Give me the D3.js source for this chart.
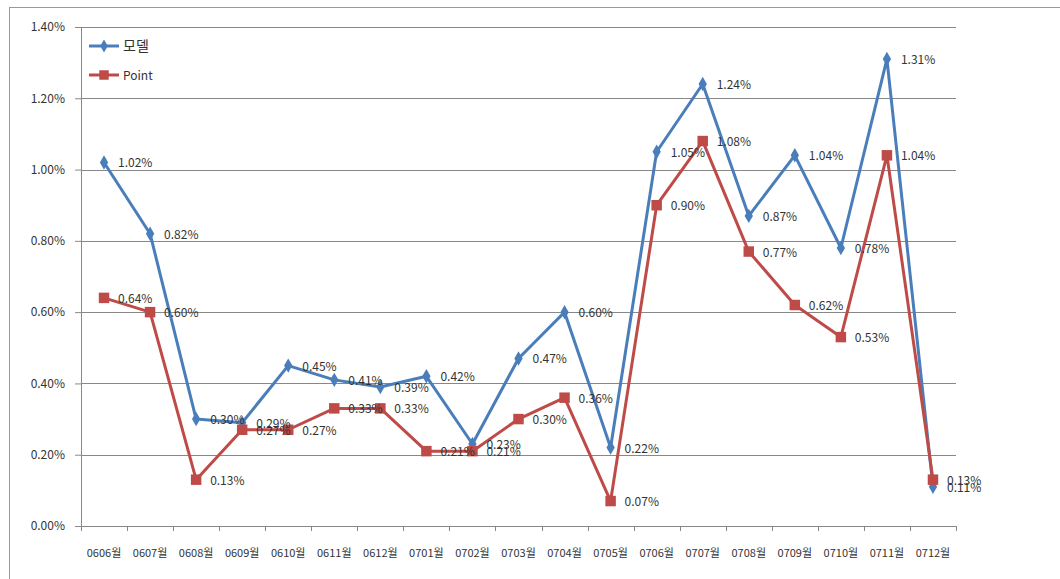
<!DOCTYPE html>
<html>
<head>
<meta charset="utf-8">
<script src="https://cdn.jsdelivr.net/npm/d3@7"></script>
<style>
  body { margin: 0; background: #fff; }
  text { font-family: "Noto Sans CJK KR", "Noto Sans", sans-serif; fill: #333; }
</style>
</head>
<body>
<div id="chart"></div>
<script>
const months = ["0606월","0607월","0608월","0609월","0610월","0611월","0612월","0701월","0702월","0703월",
                "0704월","0705월","0706월","0707월","0708월","0709월","0710월","0711월","0712월"];
const modelValues = [1.02,0.82,0.30,0.29,0.45,0.41,0.39,0.42,0.23,0.47,0.60,0.22,1.05,1.24,0.87,1.04,0.78,1.31,0.11];
const pointValues = [0.64,0.60,0.13,0.27,0.27,0.33,0.33,0.21,0.21,0.30,0.36,0.07,0.90,1.08,0.77,0.62,0.53,1.04,0.13];
const yTicks = [0,0.2,0.4,0.6,0.8,1.0,1.2,1.4];

const svgWidth = 1060, svgHeight = 579;
const margin = { top: 27, right: 104, bottom: 53, left: 81 };
const width = svgWidth - margin.left - margin.right;
const height = svgHeight - margin.top - margin.bottom;

const svg = d3.select("#chart").append("svg")
  .attr("width", svgWidth)
  .attr("height", svgHeight);

// outer chart frame
svg.append("rect")
  .attr("x", 9.5).attr("y", 7.5)
  .attr("width", 1070).attr("height", 600)
  .attr("fill", "none")
  .attr("stroke", "#999");

const g = svg.append("g").attr("transform", `translate(${margin.left},${margin.top})`);

const x = d3.scaleBand().domain(months).range([0, width]);
const y = d3.scaleLinear().domain([0, 1.4]).range([height, 0]);

// gridlines
g.selectAll(".grid").data(yTicks.slice(1)).enter().append("line")
  .attr("x1", 0).attr("x2", width)
  .attr("y1", d => Math.round(y(d)) + 0.5).attr("y2", d => Math.round(y(d)) + 0.5)
  .attr("stroke", "#888");

// y axis
const yAxis = g.append("g")
  .call(d3.axisLeft(y).tickValues(yTicks).tickSize(6).tickPadding(10)
    .tickFormat(d => d3.format(".2f")(d) + "%"));
yAxis.selectAll("line, path").attr("stroke", "#888");
yAxis.selectAll("text").attr("font-size", 12).attr("fill", "#333")
  .style("font-family", "'Noto Sans CJK KR', sans-serif");

// x axis with ticks on band boundaries
const xAxisG = g.append("g").attr("transform", `translate(0,${height})`);
xAxisG.append("line").attr("x1", 0).attr("x2", width).attr("y1", 0.5).attr("y2", 0.5).attr("stroke", "#888");
xAxisG.selectAll(".tk").data(months.concat(["end"])).enter().append("line")
  .attr("x1", (d, i) => Math.round(i * x.step()) + 0.5)
  .attr("x2", (d, i) => Math.round(i * x.step()) + 0.5)
  .attr("y1", 0).attr("y2", 5)
  .attr("stroke", "#888");
xAxisG.selectAll(".lbl").data(months).enter().append("text")
  .attr("x", d => x(d) + x.bandwidth() / 2)
  .attr("y", 31)
  .attr("text-anchor", "middle")
  .attr("font-size", 11)
  .text(d => d);

const cx = d => x(d) + x.bandwidth() / 2;
const line = d3.line().x(d => cx(d.m)).y(d => y(d.v));

const series = [
  { name: "모델", values: modelValues, color: "#4a7ebb", marker: "diamond" },
  { name: "Point", values: pointValues, color: "#be4b48", marker: "square" }
];

series.forEach(s => {
  const pts = months.map((m, i) => ({ m: m, v: s.values[i] }));
  g.append("path").datum(pts)
    .attr("d", line)
    .attr("fill", "none")
    .attr("stroke", s.color)
    .attr("stroke-width", 3)
    .attr("stroke-linejoin", "round");
});

series.forEach(s => {
  const pts = months.map((m, i) => ({ m: m, v: s.values[i] }));
  const sym = s.marker === "diamond"
    ? d3.symbol().type(d3.symbolDiamond).size(60)
    : d3.symbol().type(d3.symbolSquare).size(110);
  g.selectAll(null).data(pts).enter().append("path")
    .attr("d", sym)
    .attr("transform", d => `translate(${cx(d.m)},${y(d.v)})`)
    .attr("fill", s.color);
});

series.forEach(s => {
  const pts = months.map((m, i) => ({ m: m, v: s.values[i] }));
  g.selectAll(null).data(pts).enter().append("text")
    .attr("x", d => cx(d.m) + 14)
    .attr("y", d => y(d.v) + 5)
    .attr("font-size", 12)
    .text(d => d3.format(".2f")(d.v) + "%");
});

// legend
const legend = svg.append("g").attr("transform", "translate(89,0)");
series.forEach((s, i) => {
  const ly = 46 + i * 29;
  legend.append("line").attr("x1", 0).attr("x2", 30).attr("y1", ly).attr("y2", ly)
    .attr("stroke", s.color).attr("stroke-width", 3);
  const sym = s.marker === "diamond"
    ? d3.symbol().type(d3.symbolDiamond).size(50)
    : d3.symbol().type(d3.symbolSquare).size(90);
  legend.append("path").attr("d", sym).attr("transform", `translate(15,${ly})`).attr("fill", s.color);
  legend.append("text").attr("x", 34).attr("y", ly + 5).attr("font-size", i === 0 ? 14 : 12).text(s.name);
});
</script>
</body>
</html>
